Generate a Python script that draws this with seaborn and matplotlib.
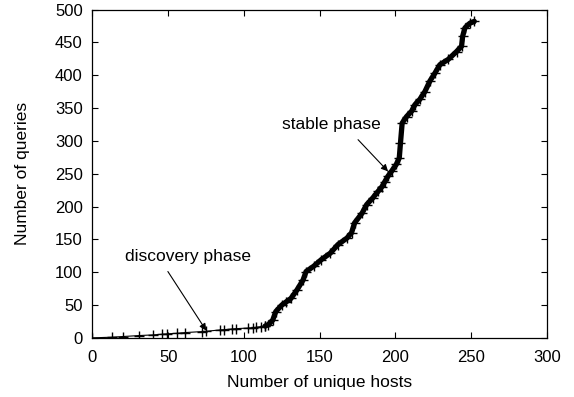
import matplotlib
matplotlib.use("Agg")
import matplotlib.pyplot as plt
import seaborn as sns
import pandas as pd

# discovery phase (sparse points)
disc_hosts = [0, 13, 20, 31, 40, 46, 49, 56, 61, 72, 75, 84, 87, 92, 95, 103, 106, 108, 111, 114]
disc_queries = [0, 1, 2, 3.5, 4.5, 5.5, 6, 7, 8, 9.5, 10, 12, 12.5, 13.5, 14, 15, 15.5, 16, 17, 18]

# stable phase (dense points)
stab_hosts = [114, 116, 119, 121, 125, 128, 131, 135, 139, 141, 146, 151, 157, 162, 168, 171,
              173, 178, 181, 185, 188.5, 191, 193, 195, 197.5, 200.5, 202.5, 203.3, 204.4,
              207.3, 210.6, 212.8, 216, 219.4, 222.7, 226, 229.3, 234.8, 240.3, 243.6, 244.3,
              245.8, 249, 252]
stab_queries = [18, 20, 27, 40, 50, 55, 60, 73, 88, 101, 109, 119, 129, 142, 152, 160,
                175, 190, 203, 213, 223, 230, 238, 246, 254, 264, 274, 297, 327,
                337, 345, 355, 363, 375, 391, 403, 416, 424, 436, 444, 459,
                472, 479, 482]

x_ticks = [0, 50, 100, 150, 200, 250, 300]
y_ticks = [0, 50, 100, 150, 200, 250, 300, 350, 400, 450, 500]

sns.set_theme(style="ticks")
plt.rcParams['font.family'] = ['Liberation Sans', 'DejaVu Sans']
plt.rcParams['font.size'] = 12
plt.rcParams['text.color'] = 'black'
plt.rcParams['axes.labelcolor'] = 'black'

fig = plt.figure(figsize=(5.74, 3.97), dpi=100)
ax = fig.add_axes([0.161, 0.149, 0.792, 0.827])

disc_df = pd.DataFrame({"hosts": disc_hosts, "queries": disc_queries})
stab_df = pd.DataFrame({"hosts": stab_hosts, "queries": stab_queries})

sns.lineplot(data=disc_df, x="hosts", y="queries", ax=ax, color="black", linewidth=0.8,
             marker="+", markersize=7, markeredgewidth=1.0, markeredgecolor="black",
             sort=False, estimator=None)
sns.lineplot(data=stab_df, x="hosts", y="queries", ax=ax, color="black", linewidth=3.8,
             marker="+", markersize=7, markeredgewidth=1.0, markeredgecolor="black",
             sort=False, estimator=None,
             solid_capstyle="round", solid_joinstyle="round")

ax.set_xlim(0, 300)
ax.set_ylim(0, 500)
ax.set_xticks(x_ticks)
ax.set_yticks(y_ticks)
ax.set_xlabel("Number of unique hosts", fontsize=12.5, labelpad=7)
ax.set_ylabel("Number of queries", fontsize=12.5, labelpad=18)
ax.tick_params(direction="in", length=4, width=0.8, top=True, right=True,
               labelsize=12, colors="black")
ax.tick_params(axis="x", pad=9)
ax.tick_params(axis="y", pad=7)
for s in ax.spines.values():
    s.set_visible(True)
    s.set_linewidth(0.9)
    s.set_color("black")

ax.text(63.4, 124, "discovery phase", ha="center", va="center", fontsize=12.5, color="black")
ax.annotate("", xy=(75.1, 11.1), xytext=(49.8, 101),
            arrowprops=dict(arrowstyle="-|>", color="black", lw=0.8,
                            mutation_scale=10, shrinkA=0, shrinkB=0))
ax.text(157.7, 324.7, "stable phase", ha="center", va="center", fontsize=12.5, color="black")
ax.annotate("", xy=(195.1, 253.5), xytext=(175.3, 301.8),
            arrowprops=dict(arrowstyle="-|>", color="black", lw=0.8,
                            mutation_scale=10, shrinkA=0, shrinkB=0))

fig.savefig("out.png", dpi=100)
